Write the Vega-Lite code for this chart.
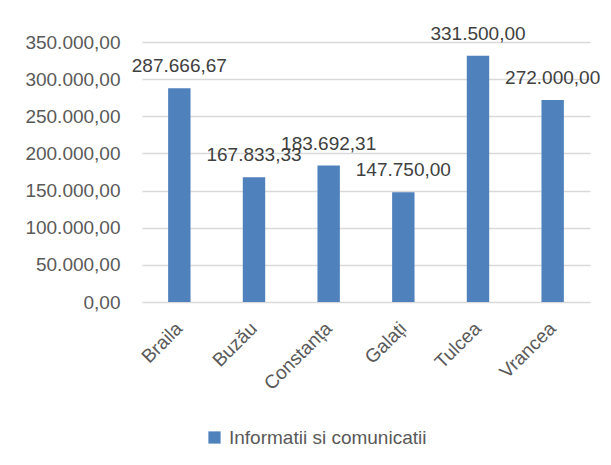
{
  "$schema": "https://vega.github.io/schema/vega-lite/v6.json",
  "width": 448,
  "height": 260,
  "autosize": {"type": "none"},
  "padding": {"left": 142, "top": 42, "right": 21, "bottom": 163},
  "background": "white",
  "config": {
    "locale": {"number": {"decimal": ",", "thousands": ".", "grouping": [3], "currency": ["", ""]}},
    "view": {"stroke": null},
    "font": "Liberation Sans",
    "axis": {"labelFont": "Liberation Sans", "labelFontSize": 19, "labelColor": "#595959"},
    "legend": {"labelFont": "Liberation Sans", "labelFontSize": 19, "labelColor": "#595959"}
  },
  "data": {
    "values": [
      {"judet": "Braila", "valoare": 287666.67, "serie": "Informatii si comunicatii"},
      {"judet": "Buzău", "valoare": 167833.33, "serie": "Informatii si comunicatii"},
      {"judet": "Constanța", "valoare": 183692.31, "serie": "Informatii si comunicatii"},
      {"judet": "Galați", "valoare": 147750.00, "serie": "Informatii si comunicatii"},
      {"judet": "Tulcea", "valoare": 331500.00, "serie": "Informatii si comunicatii"},
      {"judet": "Vrancea", "valoare": 272000.00, "serie": "Informatii si comunicatii"}
    ]
  },
  "encoding": {
    "x": {
      "field": "judet", "type": "nominal", "sort": null, "title": null,
      "scale": {"paddingInner": 0.7, "paddingOuter": 0.35},
      "axis": {"labelAngle": -45, "labelAlign": "right", "labelBaseline": "middle", "labelPadding": 23, "ticks": false, "domain": false, "grid": false}
    },
    "y": {
      "field": "valoare", "type": "quantitative", "title": null,
      "scale": {"domain": [0, 350000], "nice": false},
      "axis": {"values": [0, 50000, 100000, 150000, 200000, 250000, 300000, 350000], "format": ",.2f", "ticks": false, "domain": false, "grid": true, "gridColor": "#d9d9d9", "gridWidth": 1.3, "labelPadding": 22}
    }
  },
  "layer": [
    {
      "mark": {"type": "bar"},
      "encoding": {
        "color": {
          "field": "serie", "type": "nominal", "title": null,
          "scale": {"range": ["#4f81bd"]},
          "legend": {"orient": "none", "legendX": 63, "legendY": 386, "symbolType": "square", "symbolSize": 150, "symbolStrokeWidth": 0, "labelOffset": 5, "padding": 0, "labelLimit": 0}
        }
      }
    },
    {
      "mark": {"type": "text", "baseline": "middle", "align": "center", "dy": -22, "fontSize": 19, "color": "#404040", "font": "Liberation Sans"},
      "encoding": {
        "text": {"field": "valoare", "type": "quantitative", "format": ",.2f"}
      }
    }
  ]
}
